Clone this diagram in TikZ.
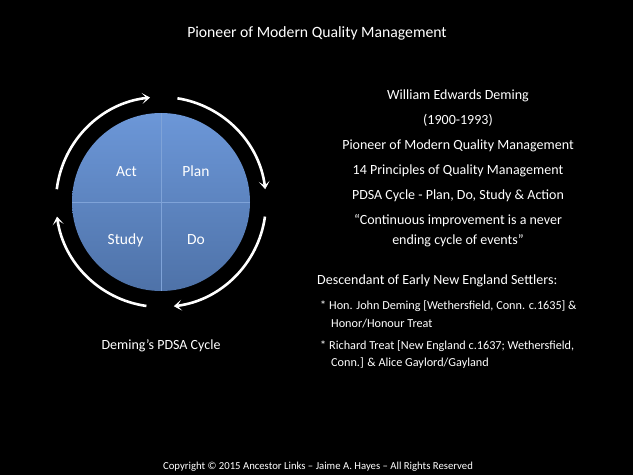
\documentclass[tikz,border=0pt]{standalone}
\usepackage{fontspec}
\setmainfont{Carlito}
\usetikzlibrary{arrows.meta}
\definecolor{topblue}{HTML}{6C97D8}
\definecolor{botblue}{HTML}{4E72A8}
\definecolor{divline}{HTML}{7FA3D8}
\begin{document}
\begin{tikzpicture}[x=1pt,y=1pt,
  txt/.style={text=white,inner sep=0pt,anchor=base},
  big/.style={txt,font=\fontsize{15.5}{17}\selectfont},
  mid/.style={txt,font=\fontsize{14}{16}\selectfont},
  small/.style={txt,font=\fontsize{12.2}{14}\selectfont,anchor=base west},
  cyc/.style={white,line width=2.6pt,-{Stealth[length=8pt,width=11pt,inset=4.5pt]}}]
\fill[black] (0,0) rectangle (633,475);
\useasboundingbox (0,0) rectangle (633,475);
% circle
\coordinate (c) at (161,273);
\shade[top color=topblue,bottom color=botblue] (c) circle (89pt);
\draw[divline,line width=0.6pt] (161,184) -- (161,362);
\draw[divline,line width=0.6pt] (72,273) -- (250,273);
\node[big] (act) at (126.5,298) {Act};
\node[big] (plan) at (196,298) {Plan};
\node[big] (study) at (125.5,230) {Study};
\node[big] (do) at (196,230) {Do};
% cycle arrows
\draw[cyc] ([shift={(173:105pt)}]c) arc[start angle=173,end angle=96,radius=105pt];
\draw[cyc] ([shift={(81:105pt)}]c) arc[start angle=81,end angle=7,radius=105pt];
\draw[cyc] ([shift={(-8:105pt)}]c) arc[start angle=-8,end angle=-83,radius=105pt];
\draw[cyc] ([shift={(-98:105pt)}]c) arc[start angle=-98,end angle=-172,radius=105pt];
% titles
\node[txt,font=\fontsize{15.7}{18}\selectfont] (title) at (317,437) {Pioneer of Modern Quality Management};
\node[mid] (cap) at (161,125) {Deming’s PDSA Cycle};
\node[mid] (l1) at (458,375) {William Edwards Deming};
\node[mid] (l2) at (458,350) {(1900-1993)};
\node[mid] (l3) at (458,325) {Pioneer of Modern Quality Management};
\node[mid] (l4) at (458,300) {14 Principles of Quality Management};
\node[mid] (l5) at (458,275) {PDSA Cycle - Plan, Do, Study \& Action};
\node[mid] (l6) at (458,250) {“Continuous improvement is a never};
\node[mid] (l7) at (458,230) {ending cycle of events”};
\node[mid,anchor=base west] (desc) at (317,190) {Descendant of Early New England Settlers:};
\node[small] (b1) at (320,166) {*};
\node[small] (t1) at (329,166) {Hon. John Deming [Wethersfield, Conn. c.1635] \&};
\node[small] (t1b) at (331,148) {Honor/Honour Treat};
\node[small] (b2) at (320,126) {*};
\node[small] (t2) at (329,126) {Richard Treat [New England c.1637; Wethersfield,};
\node[small] (t2b) at (331,109) {Conn.] \& Alice Gaylord/Gayland};
\node[txt,font=\fontsize{10.7}{12}\selectfont] (copy) at (318,6) {Copyright © 2015 Ancestor Links – Jaime A. Hayes – All Rights Reserved};
\end{tikzpicture}
\end{document}
